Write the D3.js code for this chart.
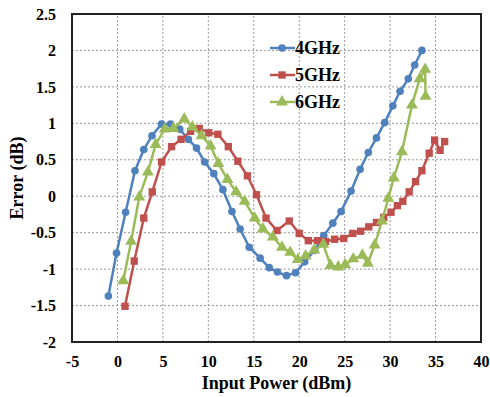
<!DOCTYPE html>
<html>
<head>
<meta charset="utf-8">
<script src="https://cdn.jsdelivr.net/npm/d3@7"></script>
<style>
  body { margin: 0; background: #fff; }
  text { font-family: "Liberation Serif", "Times New Roman", serif; font-weight: bold; }
</style>
</head>
<body>
<div id="chart"></div>
<script>
const data4GHz = [[-1.0,-1.37],[-0.1,-0.78],[0.9,-0.22],[1.93,0.35],[2.9,0.64],[3.8,0.83],[4.85,0.99],[5.85,0.99],[6.85,0.92],[7.8,0.78],[8.7,0.66],[9.6,0.47],[10.6,0.31],[11.6,0.09],[12.6,-0.21],[13.5,-0.45],[14.5,-0.70],[15.7,-0.85],[16.7,-0.98],[17.6,-1.04],[18.6,-1.09],[19.6,-1.05],[20.6,-0.90],[21.7,-0.74],[22.7,-0.54],[23.7,-0.37],[24.6,-0.21],[25.7,0.07],[26.7,0.37],[27.6,0.60],[28.5,0.80],[29.4,1.01],[30.3,1.24],[31.1,1.44],[32.0,1.61],[32.7,1.80],[33.5,2.00]]
const data5GHz = [[0.83,-1.51],[1.85,-0.89],[2.9,-0.30],[3.83,0.06],[4.86,0.47],[5.95,0.68],[7.0,0.78],[8.05,0.89],[9.0,0.93],[10.05,0.87],[11.05,0.85],[12.2,0.68],[13.25,0.48],[14.3,0.28],[15.3,0.02],[16.35,-0.30],[17.55,-0.47],[18.9,-0.34],[20.0,-0.51],[21.0,-0.61],[22.0,-0.61],[22.9,-0.62],[23.9,-0.59],[24.9,-0.58],[25.9,-0.51],[26.75,-0.48],[27.65,-0.42],[28.5,-0.36],[29.3,-0.29],[30.1,-0.22],[30.8,-0.13],[31.4,-0.07],[32.1,0.06],[32.8,0.20],[33.5,0.35],[34.3,0.59],[34.9,0.77],[35.5,0.63],[36.0,0.75]]
const data6GHz = [[0.64,-1.16],[1.5,-0.62],[2.4,-0.01],[3.35,0.33],[4.2,0.71],[5.2,0.92],[6.15,0.93],[7.35,1.06],[8.25,0.95],[9.25,0.83],[10.25,0.69],[11.1,0.45],[12.1,0.23],[13.05,0.06],[14.0,-0.07],[15.1,-0.30],[16.0,-0.45],[17.1,-0.56],[18.1,-0.70],[19.0,-0.77],[19.85,-0.87],[20.7,-0.82],[21.65,-0.74],[22.65,-0.66],[23.45,-0.95],[24.3,-0.97],[25.05,-0.94],[25.95,-0.86],[26.95,-0.81],[27.55,-0.92],[28.3,-0.67],[29.1,-0.34],[29.8,-0.03],[30.4,0.25],[31.3,0.61],[32.4,1.25],[33.25,1.61],[33.85,1.74],[33.9,1.37]]

const seriesNames = ['4GHz', '5GHz', '6GHz']
const seriesColors = ['#4F81BD', '#C0504D', '#9BBB59']
const xTicks = [-5, 0, 5, 10, 15, 20, 25, 30, 35, 40]
const yTicks = [-2, -1.5, -1, -0.5, 0, 0.5, 1, 1.5, 2, 2.5]

var width = 490, height = 397
var margin = {top: 14, right: 9, bottom: 55, left: 72}

var svg = d3.select('#chart').append('svg')
  .attr('width', width)
  .attr('height', height)

var x = d3.scaleLinear().domain([-5, 40]).range([margin.left, width - margin.right])
var y = d3.scaleLinear().domain([-2, 2.5]).range([height - margin.bottom, margin.top])

//grid
var grid = svg.append('g').attr('class', 'grid')
grid.selectAll('.vx').data(xTicks.slice(1, -1)).enter().append('line')
  .attr('x1', d => x(d)).attr('x2', d => x(d))
  .attr('y1', y(-2)).attr('y2', y(2.5))
  .attr('stroke', '#999').attr('stroke-width', 1).attr('stroke-dasharray', '2,2')
grid.selectAll('.hy').data(yTicks.slice(1, -1)).enter().append('line')
  .attr('x1', x(-5)).attr('x2', x(40))
  .attr('y1', d => y(d)).attr('y2', d => y(d))
  .attr('stroke', '#999').attr('stroke-width', 1).attr('stroke-dasharray', '2,2')

//axes (plain hyphen for negatives, like the original)
var fmt = d => String(d)
var xAxis = svg.append('g')
  .attr('transform', 'translate(0,' + y(-2) + ')')
  .call(d3.axisBottom(x).tickValues(xTicks).tickSize(0).tickPadding(14).tickFormat(fmt))
var yAxis = svg.append('g')
  .attr('transform', 'translate(' + x(-5) + ',0)')
  .call(d3.axisLeft(y).tickValues(yTicks).tickSize(0).tickPadding(16).tickFormat(fmt))
;[xAxis, yAxis].forEach(function(a) {
  a.select('.domain').remove()
  a.selectAll('text').style('font-size', '16px').attr('fill', '#000')
    .style('font-family', '"Liberation Serif", serif').style('font-weight', 'bold')
})

//plot frame
svg.append('rect')
  .attr('x', x(-5)).attr('y', y(2.5))
  .attr('width', x(40) - x(-5)).attr('height', y(-2) - y(2.5))
  .attr('fill', 'none').attr('stroke', '#222').attr('stroke-width', 2)

var line = d3.line().x(d => x(d[0])).y(d => y(d[1]))
var symbols = [d3.symbolCircle, d3.symbolSquare, d3.symbolTriangle]
var symbolSizes = [46, 54, 62]

;[data4GHz, data5GHz, data6GHz].forEach(function(data, i) {
  var g = svg.append('g')
  g.append('path').datum(data)
    .attr('d', line)
    .attr('fill', 'none')
    .attr('stroke', seriesColors[i])
    .attr('stroke-width', 2.5)
  g.selectAll('path.pt').data(data).enter().append('path')
    .attr('class', 'pt')
    .attr('transform', d => 'translate(' + x(d[0]) + ',' + y(d[1]) + ')')
    .attr('d', d3.symbol().type(symbols[i]).size(symbolSizes[i]))
    .attr('fill', seriesColors[i])
})

//legend
var legend = svg.append('g').attr('transform', 'translate(270,48)')
seriesNames.forEach(function(name, i) {
  var row = legend.append('g').attr('transform', 'translate(0,' + i * 27 + ')')
  row.append('line').attr('x1', 0).attr('x2', 25).attr('y1', 0).attr('y2', 0)
    .attr('stroke', seriesColors[i]).attr('stroke-width', 2.5)
  row.append('path').attr('transform', 'translate(12,0)')
    .attr('d', d3.symbol().type(symbols[i]).size(symbolSizes[i]))
    .attr('fill', seriesColors[i])
  row.append('text').attr('x', 25).attr('y', 0).attr('dy', '0.35em')
    .style('font-size', '18px').text(name)
})

//titles
svg.append('text')
  .attr('x', (x(-5) + x(40)) / 2).attr('y', 389)
  .attr('text-anchor', 'middle').style('font-size', '18px')
  .text('Input Power (dBm)')
svg.append('text')
  .attr('transform', 'translate(23,' + (y(-2) + y(2.5)) / 2 + ') rotate(-90)')
  .attr('text-anchor', 'middle').style('font-size', '18px')
  .text('Error (dB)')
</script>
</body>
</html>
